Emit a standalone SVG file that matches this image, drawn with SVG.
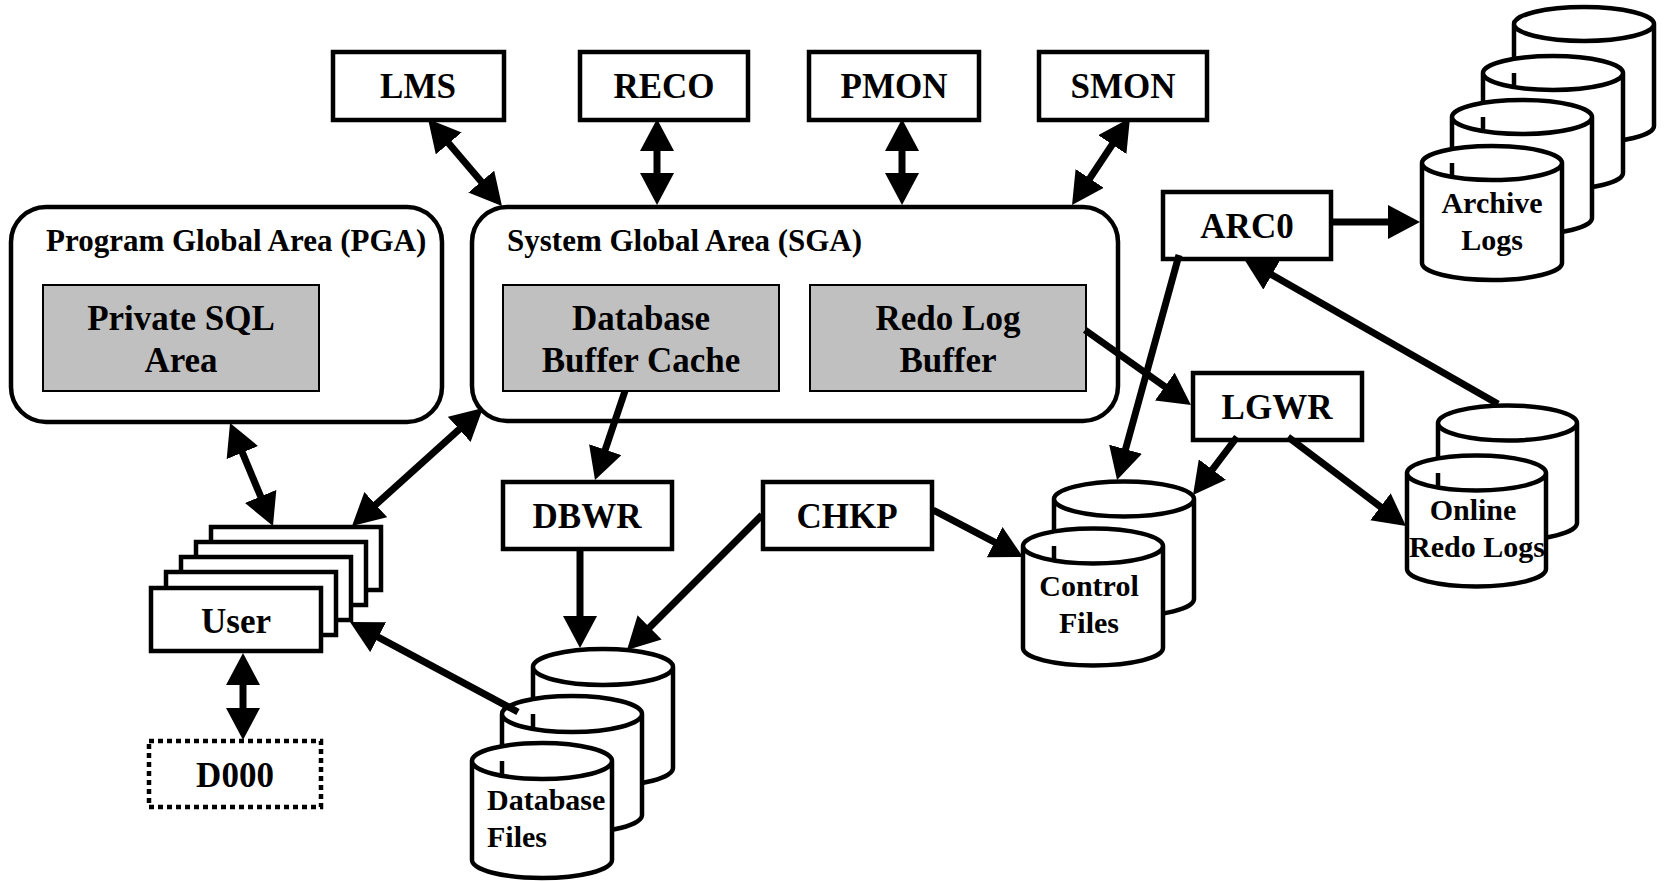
<svg xmlns="http://www.w3.org/2000/svg" width="1665" height="881" viewBox="0 0 1665 881">
<style>
.box{fill:#fff;stroke:#000;stroke-width:4.5}
.area{fill:#fff;stroke:#000;stroke-width:4.5}
.gray{fill:#c0c0c0;stroke:#000;stroke-width:2}
.cyl{fill:#fff;stroke:#000;stroke-width:4.5;stroke-linejoin:round}
.lbl{font-family:"Liberation Serif","Times New Roman",serif;font-weight:bold;font-size:35px;text-anchor:middle;fill:#000}
.ttl{font-family:"Liberation Serif","Times New Roman",serif;font-weight:bold;font-size:31px;fill:#000}
.cl{font-family:"Liberation Serif","Times New Roman",serif;font-weight:bold;font-size:30px;text-anchor:middle;fill:#000}
.c{fill:none;stroke:#000;stroke-width:7}
.ab{marker-start:url(#ah);marker-end:url(#ah)}
.ae{marker-end:url(#ah)}
</style>
<defs>
<marker id="ah" markerUnits="userSpaceOnUse" markerWidth="32" markerHeight="34" refX="16" refY="17" orient="auto-start-reverse" viewBox="0 0 32 34">
<path d="M0,0 L32,17 L0,34 Z" fill="#000"/>
</marker>
</defs>
<rect width="1665" height="881" fill="#fff"/>

<g id="pga">
<rect class="area" x="11" y="207" width="431" height="215" rx="35" ry="35"/>
<text class="ttl" x="46" y="251">Program Global Area (PGA)</text>
</g>
<g id="private-sql">
<rect class="gray" x="43" y="285" width="276" height="106"/>
<text class="lbl" x="181" y="330">Private SQL</text>
<text class="lbl" x="181" y="372">Area</text>
</g>
<g id="sga">
<rect class="area" x="472" y="207" width="646" height="214" rx="35" ry="35"/>
<text class="ttl" x="507" y="251">System Global Area (SGA)</text>
</g>
<g id="db-buffer-cache">
<rect class="gray" x="503" y="285" width="276" height="106"/>
<text class="lbl" x="641" y="330">Database</text>
<text class="lbl" x="641" y="372">Buffer Cache</text>
</g>
<g id="redo-log-buffer">
<rect class="gray" x="810" y="285" width="276" height="106"/>
<text class="lbl" x="948" y="330">Redo Log</text>
<text class="lbl" x="948" y="372">Buffer</text>
</g>

<g id="lms"><rect class="box" x="333" y="52" width="171" height="68"/><text class="lbl" x="418" y="98">LMS</text></g>
<g id="reco"><rect class="box" x="580" y="52" width="168" height="68"/><text class="lbl" x="664" y="98">RECO</text></g>
<g id="pmon"><rect class="box" x="809" y="52" width="170" height="68"/><text class="lbl" x="894" y="98">PMON</text></g>
<g id="smon"><rect class="box" x="1039" y="52" width="168" height="68"/><text class="lbl" x="1123" y="98">SMON</text></g>

<g id="user">
<rect class="box" x="211" y="527" width="170" height="63"/>
<rect class="box" x="196" y="542" width="170" height="63"/>
<rect class="box" x="181" y="557" width="170" height="63"/>
<rect class="box" x="166" y="572" width="170" height="63"/>
<rect class="box" x="151" y="588" width="170" height="63"/>
<text class="lbl" x="236" y="633">User</text>
</g>
<g id="d000">
<rect x="149" y="741" width="172" height="66" fill="#fff" stroke="#000" stroke-width="4.5" stroke-dasharray="5 4"/>
<text class="lbl" x="235" y="787">D000</text>
</g>

<g id="dbwr"><rect class="box" x="503" y="482" width="169" height="67"/><text class="lbl" x="587" y="528">DBWR</text></g>
<g id="chkp"><rect class="box" x="763" y="482" width="169" height="67"/><text class="lbl" x="847" y="528">CHKP</text></g>
<g id="arc0"><rect class="box" x="1163" y="192" width="168" height="67"/><text class="lbl" x="1247" y="238">ARC0</text></g>
<g id="lgwr"><rect class="box" x="1193" y="373" width="169" height="67"/><text class="lbl" x="1277" y="419">LGWR</text></g>

<g id="database-files">
<path class="cyl" d="M533,667 A70,18 0 0 1 673,667 L673,768 A70,18 0 0 1 533,768 Z M533,667 A70,18 0 0 0 673,667"/>
<path class="cyl" d="M502,714 A70,18 0 0 1 642,714 L642,815 A70,18 0 0 1 502,815 Z M502,714 A70,18 0 0 0 642,714"/>
<path class="cyl" d="M472,761 A70,18 0 0 1 612,761 L612,860 A70,18 0 0 1 472,860 Z M472,761 A70,18 0 0 0 612,761"/>
<text class="cl" x="487" y="810" style="text-anchor:start">Database</text>
<text class="cl" x="487" y="847" style="text-anchor:start">Files</text>
</g>

<g id="control-files">
<path class="cyl" d="M1054,499 A70,17.5 0 0 1 1194,499 L1194,599 A70,17.5 0 0 1 1054,599 Z M1054,499 A70,17.5 0 0 0 1194,499"/>
<path class="cyl" d="M1023,546 A70,17.5 0 0 1 1163,546 L1163,648 A70,17.5 0 0 1 1023,648 Z M1023,546 A70,17.5 0 0 0 1163,546"/>
<text class="cl" x="1089" y="596">Control</text>
<text class="cl" x="1089" y="633">Files</text>
</g>

<g id="online-redo-logs">
<path class="cyl" d="M1438,423 A69.5,17.5 0 0 1 1577,423 L1577,523 A69.5,17.5 0 0 1 1438,523 Z M1438,423 A69.5,17.5 0 0 0 1577,423"/>
<path class="cyl" d="M1407,473 A69.5,17.5 0 0 1 1546,473 L1546,569 A69.5,17.5 0 0 1 1407,569 Z M1407,473 A69.5,17.5 0 0 0 1546,473"/>
<text class="cl" x="1473" y="520">Online</text>
<text class="cl" x="1477" y="557">Redo Logs</text>
</g>

<g id="archive-logs">
<path class="cyl" d="M1514,24 A70,17 0 0 1 1654,24 L1654,126 A70,17 0 0 1 1514,126 Z M1514,24 A70,17 0 0 0 1654,24"/>
<path class="cyl" d="M1483,73 A70,17 0 0 1 1623,73 L1623,173 A70,17 0 0 1 1483,173 Z M1483,73 A70,17 0 0 0 1623,73"/>
<path class="cyl" d="M1452,117 A70,17 0 0 1 1592,117 L1592,218 A70,17 0 0 1 1452,218 Z M1452,117 A70,17 0 0 0 1592,117"/>
<path class="cyl" d="M1422,163 A70,17 0 0 1 1562,163 L1562,263 A70,17 0 0 1 1422,263 Z M1422,163 A70,17 0 0 0 1562,163"/>
<text class="cl" x="1492" y="213">Archive</text>
<text class="cl" x="1492" y="250">Logs</text>
</g>

<g id="connectors">
<line class="c ab" x1="438.4" y1="131.2" x2="491.6" y2="193.8"/>
<line class="c ab" x1="657" y1="135" x2="657" y2="189"/>
<line class="c ab" x1="902" y1="135" x2="902" y2="189"/>
<line class="c ab" x1="1121.1" y1="131.3" x2="1080.9" y2="191.7"/>
<line class="c ab" x1="236.2" y1="437.8" x2="266.8" y2="511.2"/>
<line class="c ab" x1="471.1" y1="418.7" x2="363.9" y2="515.3"/>
<line class="c ab" x1="243" y1="669" x2="243" y2="724"/>
<line class="c ae" x1="625" y1="391" x2="600.1" y2="464.8"/>
<line class="c ae" x1="580" y1="549" x2="580" y2="632"/>
<line class="c ae" x1="762" y1="515" x2="638.3" y2="638.7"/>
<line class="c ae" x1="518" y1="712" x2="364.1" y2="629.6"/>
<line class="c ae" x1="933" y1="510" x2="1008.8" y2="549.6"/>
<line class="c ae" x1="1085" y1="330" x2="1177.9" y2="395.8"/>
<line class="c ae" x1="1179" y1="255" x2="1121.3" y2="464.6"/>
<line class="c ae" x1="1237" y1="437" x2="1202.7" y2="482.3"/>
<line class="c ae" x1="1288" y1="437" x2="1393.2" y2="516.4"/>
<line class="c ae" x1="1498" y1="404" x2="1257.9" y2="266.9"/>
<line class="c ae" x1="1333" y1="222" x2="1404" y2="222"/>
</g>
</svg>
